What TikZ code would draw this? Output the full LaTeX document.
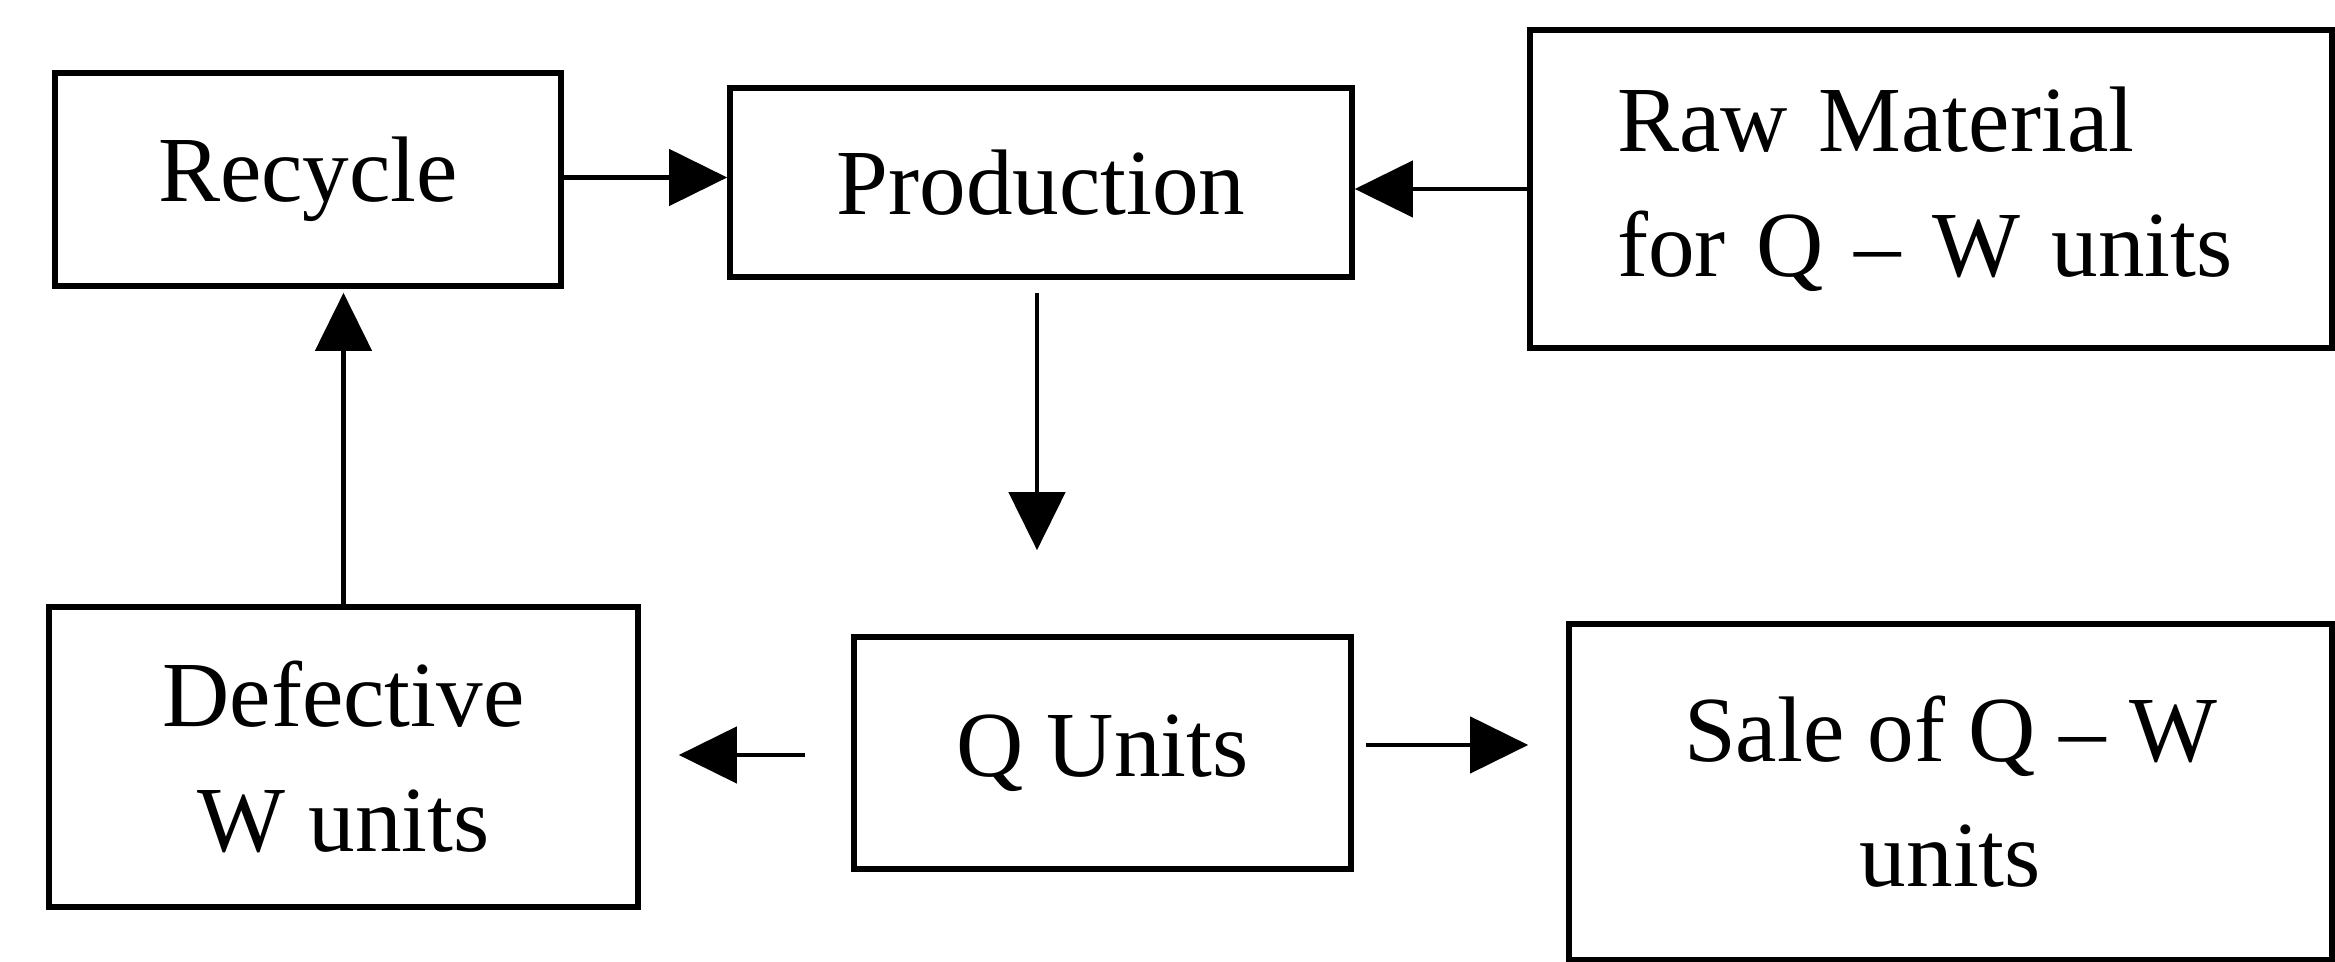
\documentclass[tikz,border=0pt]{standalone}
\usepackage{fontspec}
\setmainfont{Liberation Serif}
\usetikzlibrary{positioning,arrows.meta,calc}

\tikzset{
  box/.style={draw, rectangle, line width=1.6pt, align=center, inner sep=0pt},
  flow/.style={line width=1.3pt, -{Triangle[length=0.58cm, width=0.56cm]}}
}

\begin{document}
\begin{tikzpicture}[font=\fontsize{26.5}{35.5}\selectfont]
  \useasboundingbox (0,0) rectangle (23.35,9.62);

  % Nodes
  \node[box, minimum width=5.06cm, minimum height=2.13cm] (recycle) at (3.08,7.825) {Recycle};
  \node[box, minimum width=6.22cm, minimum height=1.89cm] (production) at (10.41,7.795) {Production};
  \node[box, align=left, text width=6.28cm, inner xsep=0.87cm, minimum height=3.18cm] (raw) at (19.31,7.73) {Raw Material\\for Q -- W units};
  \node[box, minimum width=5.89cm, minimum height=3.00cm] (defective) at (3.435,2.05) {Defective\\W units};
  \node[box, minimum width=4.97cm, minimum height=2.32cm] (qunits) at (11.025,2.09) {Q Units};
  \node[box, minimum width=7.63cm, minimum height=3.36cm] (sale) at (19.505,1.70) {Sale of Q -- W\\units};

  % Arrows
  \draw[flow] ([yshift=0.02cm]recycle.east) -- ([yshift=0.02cm]recycle.east -| production.west);
  \draw[flow] (raw.west) -- (raw.west -| production.east);
  \draw[flow] ([xshift=-0.04cm,yshift=-0.13cm]production.south) -- ($(production.south |- qunits.north)+(-0.04,0.84)$);
  \draw[flow] ([xshift=-0.46cm,yshift=-0.02cm]qunits.west) -- ($([yshift=-0.02cm]qunits.west -| defective.east)+(0.38,0)$);
  \draw[flow] ([xshift=0.12cm,yshift=0.08cm]qunits.east) -- ($([yshift=0.08cm]qunits.east -| sale.west)+(-0.38,0)$);
  \draw[flow] (defective.north) -- ($(defective.north |- recycle.south)+(0,-0.04)$);
\end{tikzpicture}
\end{document}
